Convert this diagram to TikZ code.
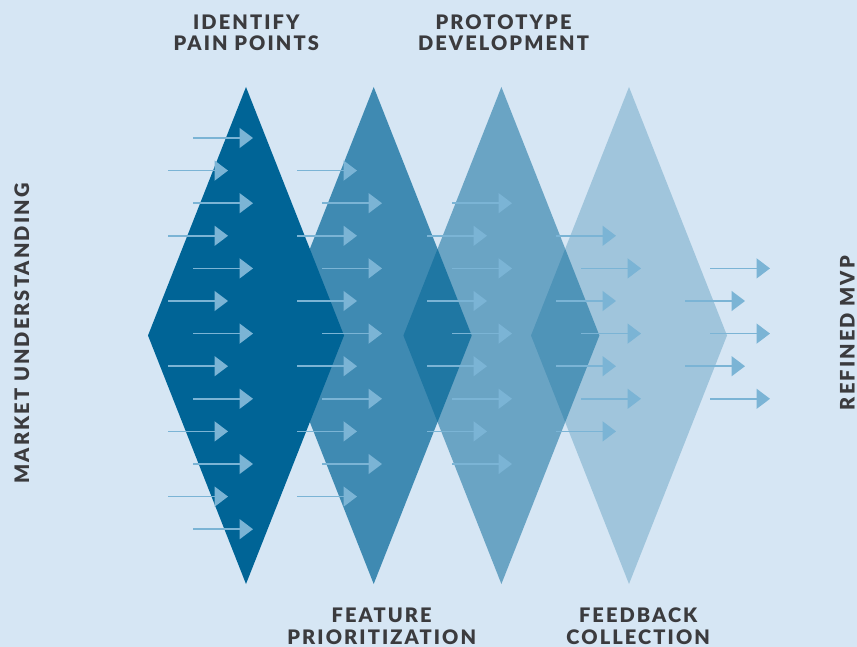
\documentclass[tikz,border=0pt]{standalone}
\usepackage{fontspec}
\usetikzlibrary{arrows.meta,shapes.geometric}
\newfontfamily\lblfont{Lato}[BoldFont={Lato Black}, LetterSpace=10.5]
\definecolor{paper}{HTML}{D6E6F4}
\definecolor{deep}{HTML}{006496}
\definecolor{flow}{HTML}{7BB4D5}
\definecolor{ink}{HTML}{3B3B3E}
\tikzset{
  stage/.style={diamond, fill=deep, draw=none, inner sep=0pt, outer sep=0pt,
    minimum width=196pt, minimum height=497pt},
  flowline/.style={draw=flow, line width=1.6pt,
    -{Triangle[length=13.5pt,width=20pt]}},
  lbl/.style={text=ink, font=\lblfont\bfseries\fontsize{20}{21.5}\selectfont,
    align=center, inner sep=0pt, anchor=base},
}
\begin{document}
\begin{tikzpicture}[x=1pt,y=-1pt]
\fill[paper] (0,0) rectangle (857,647);
\useasboundingbox (0,0) rectangle (857,647);

% four overlapping stages, lighter towards the right
\node[stage, fill opacity=0.25] (s4) at (629,335.5) {};
\node[stage, fill opacity=0.5]  (s3) at (501.4,335.5) {};
\node[stage, fill opacity=0.7]  (s2) at (373.7,335.5) {};
\node[stage]                    (s1) at (246,335.5) {};

% flow arrows: start x / first row / last row (every other row)
\foreach \s/\ka/\kb in {193/0/12, 168/1/11, 297/1/11, 322/2/10, 452/2/10,
                        427/3/9, 556/3/9, 581/4/8, 710/4/8, 685/5/7} {
  \pgfmathtruncatemacro\kc{\ka+2}
  \foreach \k in {\ka,\kc,...,\kb} {
    \coordinate (f-\s-\k-a) at (\s, 138+32.6*\k);
    \coordinate (f-\s-\k-b) at (\s+60, 138+32.6*\k);
    \draw[flowline] (f-\s-\k-a) -- (f-\s-\k-b);
  }
}

% stage labels (anchored at the baseline of the last line)
\node[lbl] (l1) at (246.3,51) {IDENTIFY\\PAIN POINTS};
\node[lbl] (l3) at (503.5,51) {PROTOTYPE\\DEVELOPMENT};
\node[lbl] (l2) at (381.7,644) {FEATURE\\PRIORITIZATION};
\node[lbl] (l4) at (638.2,644) {FEEDBACK\\COLLECTION};

% input and output labels
\node[lbl, rotate=90] (lin)  at (29,333.5)  {MARKET UNDERSTANDING};
\node[lbl, rotate=90] (lout) at (854.5,333) {REFINED MVP};
\end{tikzpicture}
\end{document}
